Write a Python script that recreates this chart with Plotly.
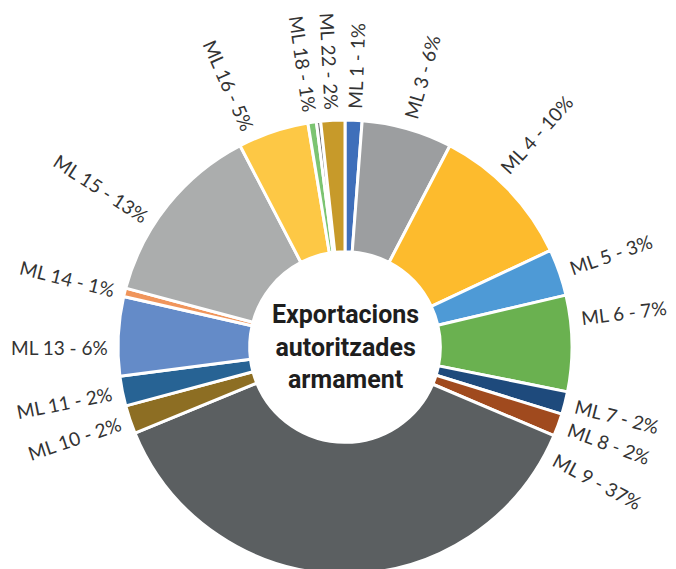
import math
import plotly.graph_objects as go

# Donut data (share of authorised arms exports per ML category)
labels = ["ML 1", "ML 3", "ML 4", "ML 5", "ML 6", "ML 7", "ML 8", "ML 9",
          "ML 10", "ML 11", "ML 13", "ML 14", "ML 15", "ML 16", "ML 18",
          "ML 21", "ML 22"]
values = [1.2, 6.4, 10.3, 3.3, 6.8, 1.6, 1.6, 37.2,
          2.0, 2.1, 5.6, 0.6, 13.1, 5.0, 0.6,
          0.3, 1.7]
colors = ["#3f6fba", "#9c9ea0", "#fdbb2d", "#4e9ad6", "#6ab150", "#1e4a7c",
          "#a04a1e", "#5b5f61", "#8d6e23", "#276394", "#648bc8", "#f0955b",
          "#abadad", "#fdc845", "#7cc472", "#6b6b6b", "#c79a2a"]
center_title = "Exportacions<br>autoritzades<br>armament"

W, H = 676, 569
# page has an 8px body margin, so the centre is shifted back by 8px
cx, cy, R = 337, 339, 227

# some labels sit a bit off their slice middle in the original
label_angle_override = {"ML 4": 42, "ML 6": 83, "ML 9": 118,
                        "ML 13": 270, "ML 15": 303, "ML 16": 336}

fig = go.Figure(go.Pie(
    labels=labels,
    values=values,
    hole=0.42,
    sort=False,
    direction="clockwise",
    rotation=0,
    marker=dict(colors=colors, line=dict(color="white", width=3)),
    textinfo="none",
    hoverinfo="label+percent",
    showlegend=False,
    domain=dict(x=[(cx - R) / W, (cx + R) / W],
                y=[1 - (cy + R) / H, 1 - (cy - R) / H]),
))

# radial labels outside the ring
total = sum(values)
start = 0.0
annotations = []
for lab, v in zip(labels, values):
    pct = round(v / total * 100)
    mid = start + v / total * 360 / 2
    start += v / total * 360
    if pct < 1:
        continue
    txt = f"{lab} - {pct}%"
    th = label_angle_override.get(lab, mid)
    ang = th - 90 if th <= 180 else th - 270
    rc = R + 11 + len(txt) * 9.6 / 2
    px = cx + rc * math.sin(math.radians(th))
    py = cy - rc * math.cos(math.radians(th))
    annotations.append(dict(
        x=px / W, y=1 - py / H, xref="paper", yref="paper",
        text=txt, showarrow=False, textangle=ang,
        xanchor="center", yanchor="middle",
        font=dict(family="Lato", size=19, color="#333333"),
    ))

annotations.append(dict(
    x=cx / W, y=1 - cy / H, xref="paper", yref="paper",
    text=center_title, showarrow=False,
    xanchor="center", yanchor="middle",
    font=dict(family="Roboto", size=25, color="#1e1e1e", weight="bold"),
))

fig.update_layout(
    width=W, height=H,
    margin=dict(l=0, r=0, t=0, b=0),
    paper_bgcolor="white",
    annotations=annotations,
)

fig.write_html("out.html")
